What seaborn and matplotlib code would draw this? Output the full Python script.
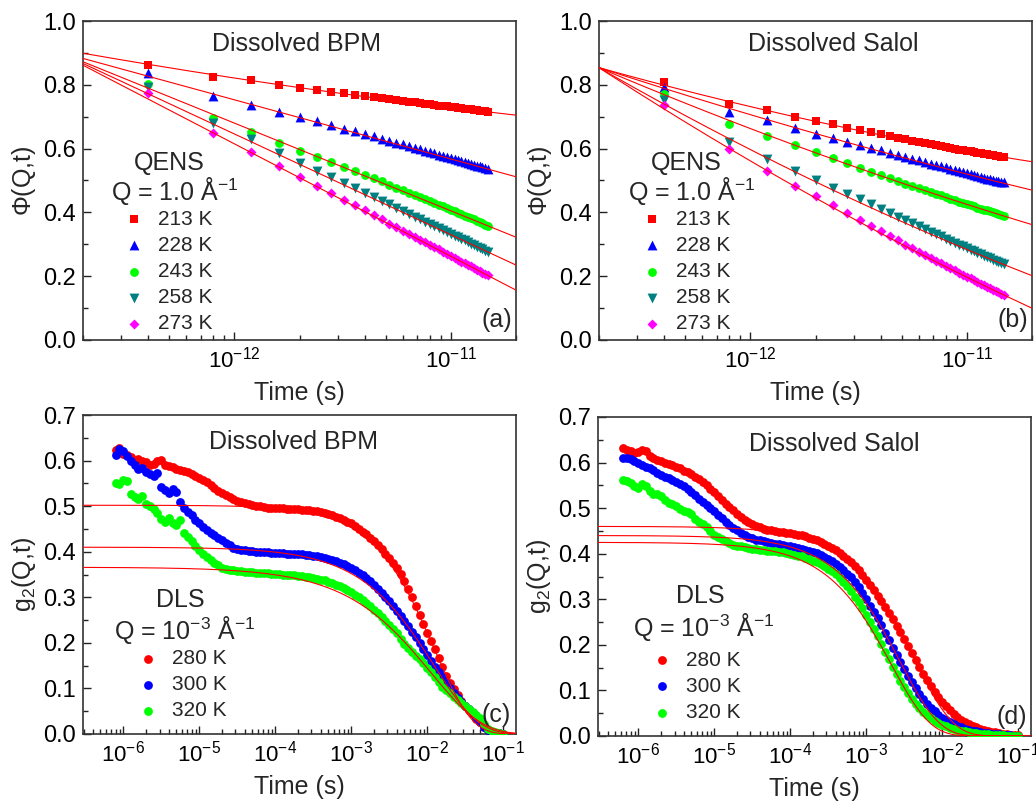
import numpy as np
import matplotlib
matplotlib.use("Agg")
import matplotlib.pyplot as plt
import seaborn as sns
from matplotlib.ticker import MultipleLocator, LogLocator, NullFormatter, FixedLocator

# ---------------- QENS data (time in ps) ----------------
qens_t_ps = [0.4, 0.8, 1.2, 1.6, 2.0, 2.4, 2.8, 3.2, 3.6, 4.0, 4.4, 4.8, 5.2, 5.6, 6.0, 6.4,
             6.8, 7.2, 7.6, 8.0, 8.4, 8.8, 9.2, 9.6, 10.0, 10.4, 10.8, 11.2, 11.6, 12.0, 12.4,
             12.8, 13.2, 13.6, 14.0, 14.4, 14.8]
qens_labels = ["213 K", "228 K", "243 K", "258 K", "273 K"]

bpm_213 = [0.862, 0.823, 0.815, 0.800, 0.790, 0.784, 0.778, 0.774, 0.769, 0.765, 0.761, 0.758, 0.755,
           0.752, 0.749, 0.747, 0.745, 0.743, 0.741, 0.739, 0.737, 0.735, 0.733, 0.732, 0.730, 0.729,
           0.727, 0.726, 0.725, 0.724, 0.723, 0.721, 0.720, 0.719, 0.718, 0.717, 0.716]
bpm_228 = [0.836, 0.765, 0.738, 0.715, 0.698, 0.686, 0.674, 0.663, 0.654, 0.645, 0.638, 0.631, 0.624,
           0.618, 0.613, 0.607, 0.602, 0.598, 0.593, 0.589, 0.585, 0.581, 0.577, 0.574, 0.571, 0.567,
           0.564, 0.561, 0.558, 0.555, 0.552, 0.549, 0.546, 0.544, 0.541, 0.538, 0.536]
bpm_243 = [0.803, 0.695, 0.651, 0.617, 0.594, 0.574, 0.558, 0.543, 0.530, 0.518, 0.507, 0.497, 0.487,
           0.478, 0.470, 0.462, 0.455, 0.448, 0.442, 0.436, 0.430, 0.424, 0.419, 0.414, 0.409, 0.404,
           0.399, 0.395, 0.390, 0.386, 0.382, 0.378, 0.374, 0.370, 0.366, 0.362, 0.358]
bpm_258 = [0.792, 0.679, 0.629, 0.587, 0.556, 0.531, 0.510, 0.491, 0.475, 0.461, 0.448, 0.436, 0.425,
           0.414, 0.404, 0.395, 0.387, 0.379, 0.371, 0.364, 0.357, 0.351, 0.344, 0.339, 0.333, 0.327,
           0.322, 0.317, 0.312, 0.307, 0.302, 0.297, 0.293, 0.288, 0.284, 0.280, 0.276]
bpm_273 = [0.775, 0.648, 0.590, 0.546, 0.512, 0.484, 0.460, 0.440, 0.422, 0.406, 0.391, 0.378, 0.365,
           0.353, 0.343, 0.333, 0.323, 0.315, 0.306, 0.299, 0.291, 0.284, 0.277, 0.271, 0.264, 0.258,
           0.252, 0.246, 0.241, 0.236, 0.231, 0.225, 0.220, 0.215, 0.211, 0.207, 0.203]

salol_213 = [0.808, 0.740, 0.721, 0.700, 0.687, 0.676, 0.666, 0.658, 0.651, 0.645, 0.639, 0.634, 0.629,
             0.625, 0.621, 0.617, 0.614, 0.611, 0.608, 0.605, 0.602, 0.600, 0.597, 0.595, 0.593, 0.591,
             0.589, 0.587, 0.585, 0.583, 0.582, 0.580, 0.579, 0.577, 0.576, 0.574, 0.573]
salol_228 = [0.792, 0.714, 0.690, 0.666, 0.647, 0.634, 0.622, 0.612, 0.603, 0.595, 0.587, 0.581, 0.574,
             0.568, 0.563, 0.558, 0.553, 0.549, 0.545, 0.541, 0.537, 0.533, 0.529, 0.526, 0.523, 0.520,
             0.517, 0.514, 0.511, 0.509, 0.506, 0.504, 0.502, 0.500, 0.498, 0.496, 0.494]
salol_243 = [0.770, 0.677, 0.640, 0.611, 0.588, 0.570, 0.554, 0.540, 0.528, 0.517, 0.507, 0.498, 0.490,
             0.483, 0.476, 0.470, 0.464, 0.458, 0.453, 0.448, 0.443, 0.438, 0.434, 0.430, 0.426, 0.422,
             0.419, 0.415, 0.412, 0.409, 0.406, 0.403, 0.400, 0.397, 0.394, 0.392, 0.389]
salol_258 = [0.752, 0.620, 0.568, 0.530, 0.501, 0.478, 0.458, 0.441, 0.426, 0.412, 0.399, 0.387, 0.376,
             0.366, 0.357, 0.348, 0.340, 0.332, 0.325, 0.318, 0.311, 0.305, 0.299, 0.294, 0.288, 0.283,
             0.278, 0.273, 0.269, 0.264, 0.260, 0.256, 0.252, 0.248, 0.244, 0.241, 0.237]
salol_273 = [0.736, 0.598, 0.531, 0.484, 0.450, 0.422, 0.398, 0.377, 0.358, 0.342, 0.326, 0.312, 0.299,
             0.288, 0.277, 0.267, 0.257, 0.248, 0.240, 0.232, 0.225, 0.218, 0.211, 0.205, 0.199, 0.193,
             0.187, 0.182, 0.177, 0.172, 0.167, 0.162, 0.157, 0.153, 0.149, 0.145, 0.141]

# log-decay fit parameters: phi = a + b*L + c*L^2, L = log10(t / 1 ps)
bpm_fit_a = [0.8213, 0.753, 0.680, 0.646, 0.615]
bpm_fit_b = [-0.1035, -0.1855, -0.275, -0.316, -0.3525]
bpm_fit_c = [0.0108, 0.0, 0.0, 0.0, 0.0]
salol_fit_a = [0.7317, 0.7064, 0.6628, 0.597, 0.5615]
salol_fit_b = [-0.160, -0.2008, -0.2585, -0.3449, -0.3959]
salol_fit_c = [0.0209, 0.0146, 0.0208, 0.0316, 0.0315]

# ---------------- DLS data (log10 of time in s) ----------------
dls_labels = ["280 K", "300 K", "320 K"]
bpm_dls_logt = [
    -6.10, -6.05, -6.00, -5.95, -5.90, -5.85, -5.80, -5.75, -5.70, -5.65,
    -5.60, -5.55, -5.50, -5.45, -5.40, -5.35, -5.30, -5.25, -5.20, -5.15,
    -5.10, -5.05, -5.00, -4.95, -4.90, -4.85, -4.80, -4.75, -4.70, -4.65,
    -4.60, -4.55, -4.50, -4.45, -4.40, -4.35, -4.30, -4.25, -4.20, -4.15,
    -4.10, -4.05, -4.00, -3.95, -3.90, -3.85, -3.80, -3.75, -3.70, -3.65,
    -3.60, -3.55, -3.50, -3.45, -3.40, -3.35, -3.30, -3.25, -3.20, -3.15,
    -3.10, -3.05, -3.00, -2.95, -2.90, -2.85, -2.80, -2.75, -2.70, -2.65,
    -2.60, -2.55, -2.50, -2.45, -2.40, -2.35, -2.30, -2.25, -2.20, -2.15,
    -2.10, -2.05, -2.00, -1.95, -1.90, -1.85, -1.80, -1.75, -1.70, -1.65,
    -1.60, -1.55, -1.50, -1.45, -1.40, -1.35, -1.30, -1.25, -1.20, -1.15,
    -1.10, -1.05, -1.00]
bpm_dls_280 = [
    0.624, 0.627, 0.615, 0.612, 0.607, 0.598, 0.603, 0.600, 0.597, 0.590,
    0.592, 0.600, 0.601, 0.590, 0.588, 0.585, 0.582, 0.580, 0.578, 0.574,
    0.570, 0.567, 0.562, 0.558, 0.553, 0.546, 0.540, 0.534, 0.529, 0.524,
    0.520, 0.515, 0.512, 0.509, 0.507, 0.504, 0.502, 0.501, 0.500, 0.498,
    0.497, 0.497, 0.496, 0.495, 0.495, 0.494, 0.494, 0.493, 0.493, 0.492,
    0.492, 0.491, 0.490, 0.489, 0.487, 0.485, 0.482, 0.480, 0.477, 0.474,
    0.470, 0.466, 0.462, 0.456, 0.450, 0.444, 0.438, 0.431, 0.423, 0.414,
    0.405, 0.396, 0.386, 0.375, 0.364, 0.351, 0.336, 0.318, 0.300, 0.281,
    0.262, 0.242, 0.222, 0.204, 0.186, 0.166, 0.146, 0.128, 0.112, 0.098,
    0.085, 0.073, 0.062, 0.052, 0.043, 0.034, 0.026, 0.016, 0.008, 0.005,
    0.003, 0.002, 0.001]
bpm_dls_300 = [
    0.612, 0.625, 0.622, 0.610, 0.600, 0.590, 0.582, 0.584, 0.575, 0.570,
    0.566, 0.572, 0.543, 0.535, 0.528, 0.538, 0.532, 0.510, 0.495, 0.488,
    0.480, 0.470, 0.462, 0.455, 0.447, 0.440, 0.436, 0.430, 0.425, 0.419,
    0.414, 0.409, 0.406, 0.404, 0.403, 0.402, 0.401, 0.400, 0.400, 0.399,
    0.399, 0.398, 0.398, 0.397, 0.397, 0.396, 0.396, 0.395, 0.395, 0.394,
    0.393, 0.392, 0.391, 0.390, 0.388, 0.386, 0.384, 0.382, 0.379, 0.376,
    0.372, 0.368, 0.364, 0.359, 0.354, 0.348, 0.342, 0.335, 0.327, 0.319,
    0.310, 0.301, 0.292, 0.281, 0.270, 0.259, 0.248, 0.236, 0.224, 0.212,
    0.200, 0.187, 0.174, 0.161, 0.148, 0.136, 0.124, 0.112, 0.101, 0.090,
    0.080, 0.071, 0.062, 0.054, 0.046, 0.036, 0.026, 0.016, 0.008, 0.005,
    0.003, 0.002, 0.001]
bpm_dls_320 = [
    0.550, 0.548, 0.558, 0.555, 0.527, 0.520, 0.516, 0.522, 0.505, 0.500,
    0.494, 0.485, 0.472, 0.466, 0.474, 0.462, 0.458, 0.470, 0.440, 0.432,
    0.423, 0.413, 0.403, 0.396, 0.389, 0.382, 0.375, 0.370, 0.365, 0.362,
    0.360, 0.359, 0.358, 0.357, 0.356, 0.355, 0.355, 0.354, 0.354, 0.353,
    0.353, 0.352, 0.352, 0.351, 0.350, 0.349, 0.349, 0.348, 0.347, 0.346,
    0.345, 0.344, 0.343, 0.341, 0.339, 0.337, 0.334, 0.331, 0.328, 0.324,
    0.320, 0.316, 0.311, 0.306, 0.300, 0.294, 0.288, 0.281, 0.273, 0.265,
    0.257, 0.249, 0.240, 0.231, 0.221, 0.209, 0.198, 0.189, 0.180, 0.172,
    0.164, 0.155, 0.145, 0.135, 0.124, 0.114, 0.104, 0.096, 0.089, 0.081,
    0.074, 0.067, 0.061, 0.055, 0.049, 0.042, 0.035, 0.022, 0.010, 0.006,
    0.004, 0.002, 0.001]

salol_dls_logt = [
    -6.20, -6.15, -6.10, -6.05, -6.00, -5.95, -5.90, -5.85, -5.80, -5.75,
    -5.70, -5.65, -5.60, -5.55, -5.50, -5.45, -5.40, -5.35, -5.30, -5.25,
    -5.20, -5.15, -5.10, -5.05, -5.00, -4.95, -4.90, -4.85, -4.80, -4.75,
    -4.70, -4.65, -4.60, -4.55, -4.50, -4.45, -4.40, -4.35, -4.30, -4.25,
    -4.20, -4.15, -4.10, -4.05, -4.00, -3.95, -3.90, -3.85, -3.80, -3.75,
    -3.70, -3.65, -3.60, -3.55, -3.50, -3.45, -3.40, -3.35, -3.30, -3.25,
    -3.20, -3.15, -3.10, -3.05, -3.00, -2.95, -2.90, -2.85, -2.80, -2.75,
    -2.70, -2.65, -2.60, -2.55, -2.50, -2.45, -2.40, -2.35, -2.30, -2.25,
    -2.20, -2.15, -2.10, -2.05, -2.00, -1.95, -1.90, -1.85, -1.80, -1.75,
    -1.70, -1.65, -1.60, -1.55, -1.50, -1.45, -1.40, -1.35, -1.30, -1.25,
    -1.20, -1.15, -1.10, -1.05, -1.00]
salol_dls_280 = [
    0.633, 0.628, 0.626, 0.622, 0.624, 0.628, 0.626, 0.614, 0.610, 0.606,
    0.603, 0.600, 0.596, 0.594, 0.590, 0.587, 0.582, 0.580, 0.575, 0.569,
    0.563, 0.557, 0.550, 0.543, 0.535, 0.527, 0.518, 0.510, 0.502, 0.495,
    0.488, 0.481, 0.475, 0.470, 0.465, 0.461, 0.458, 0.455, 0.453, 0.451,
    0.450, 0.448, 0.447, 0.446, 0.445, 0.444, 0.442, 0.440, 0.438, 0.435,
    0.432, 0.429, 0.426, 0.422, 0.418, 0.413, 0.408, 0.402, 0.396, 0.389,
    0.381, 0.373, 0.364, 0.354, 0.343, 0.332, 0.320, 0.308, 0.296, 0.283,
    0.270, 0.256, 0.242, 0.228, 0.213, 0.198, 0.183, 0.167, 0.152, 0.137,
    0.122, 0.109, 0.096, 0.085, 0.074, 0.065, 0.056, 0.049, 0.042, 0.036,
    0.031, 0.026, 0.022, 0.019, 0.016, 0.013, 0.011, 0.009, 0.008, 0.006,
    0.005, 0.004, 0.003, 0.002, 0.002]
salol_dls_300 = [
    0.609, 0.610, 0.607, 0.603, 0.600, 0.594, 0.590, 0.587, 0.583, 0.577,
    0.573, 0.569, 0.566, 0.562, 0.557, 0.553, 0.548, 0.542, 0.535, 0.528,
    0.520, 0.513, 0.506, 0.500, 0.493, 0.486, 0.478, 0.470, 0.463, 0.457,
    0.451, 0.446, 0.441, 0.437, 0.434, 0.431, 0.429, 0.427, 0.425, 0.423,
    0.422, 0.421, 0.420, 0.418, 0.417, 0.415, 0.413, 0.411, 0.409, 0.407,
    0.404, 0.401, 0.397, 0.393, 0.389, 0.384, 0.378, 0.371, 0.364, 0.356,
    0.348, 0.338, 0.326, 0.313, 0.300, 0.286, 0.272, 0.258, 0.243, 0.227,
    0.211, 0.194, 0.178, 0.162, 0.147, 0.132, 0.118, 0.105, 0.093, 0.082,
    0.071, 0.062, 0.054, 0.047, 0.040, 0.035, 0.030, 0.026, 0.022, 0.019,
    0.016, 0.014, 0.012, 0.010, 0.009, 0.007, 0.006, 0.005, 0.004, 0.004,
    0.003, 0.002, 0.002, 0.001, 0.001]
salol_dls_320 = [
    0.562, 0.560, 0.556, 0.548, 0.545, 0.552, 0.549, 0.537, 0.532, 0.530,
    0.526, 0.518, 0.512, 0.509, 0.505, 0.498, 0.494, 0.492, 0.488, 0.476,
    0.469, 0.465, 0.458, 0.449, 0.442, 0.437, 0.432, 0.427, 0.423, 0.420,
    0.418, 0.416, 0.414, 0.412, 0.411, 0.410, 0.409, 0.408, 0.407, 0.406,
    0.405, 0.404, 0.403, 0.402, 0.400, 0.398, 0.396, 0.394, 0.391, 0.388,
    0.385, 0.381, 0.377, 0.372, 0.367, 0.361, 0.355, 0.347, 0.339, 0.329,
    0.318, 0.306, 0.294, 0.280, 0.266, 0.251, 0.235, 0.219, 0.202, 0.185,
    0.168, 0.152, 0.136, 0.121, 0.107, 0.094, 0.082, 0.071, 0.061, 0.053,
    0.045, 0.039, 0.033, 0.028, 0.024, 0.021, 0.018, 0.015, 0.013, 0.011,
    0.010, 0.008, 0.007, 0.006, 0.005, 0.004, 0.004, 0.003, 0.003, 0.002,
    0.002, 0.001, 0.001, 0.001, 0.001]

# stretched-exponential fits: g2 = f * exp(-(t/tau)^beta)
bpm_dls_f = [0.502, 0.410, 0.366]
bpm_dls_logtau = [-1.90, -1.91, -1.95]
bpm_dls_beta = [0.90, 0.75, 0.65]
salol_dls_f = [0.460, 0.440, 0.425]
salol_dls_logtau = [-2.37, -2.549, -2.667]
salol_dls_beta = [0.85, 0.85, 0.85]

# ---------------- styling ----------------
sns.set_theme(style="ticks")
plt.rcParams['font.family'] = ['Liberation Sans', 'DejaVu Sans']
plt.rcParams['mathtext.fontset'] = 'custom'
plt.rcParams['mathtext.rm'] = 'Liberation Sans'
plt.rcParams['mathtext.it'] = 'Liberation Sans:italic'
plt.rcParams['mathtext.bf'] = 'Liberation Sans:bold'
plt.rcParams['axes.unicode_minus'] = True

qens_colors = ['#FF0000', '#0000FF', '#00FF00', '#008080', '#FF00FF']
qens_markers = ['s', '^', 'o', 'v', 'D']
qens_sizes = [32, 50, 40, 50, 26]
dls_colors = ['#FF0000', '#0000FF', '#00FF00']

W, H = 1036, 806
fig = plt.figure(figsize=(W / 100, H / 100), dpi=100)


def add_ax(l, t, r, b):
    return fig.add_axes([l / W, 1 - b / H, (r - l) / W, (b - t) / H])


ax_a = add_ax(83, 21, 516, 340)
ax_b = add_ax(599, 21, 1032, 340)
ax_c = add_ax(83, 415, 516, 734)
ax_d = add_ax(598, 417, 1031, 736)


def style(ax, xlim, xmajors, ylim, ymaj, ymin, ylabel):
    ax.set_xscale('log')
    ax.set_xlim(*xlim)
    ax.set_ylim(*ylim)
    ax.yaxis.set_major_locator(MultipleLocator(ymaj))
    ax.yaxis.set_minor_locator(MultipleLocator(ymin))
    ax.xaxis.set_major_locator(FixedLocator(xmajors))
    ax.xaxis.set_minor_locator(LogLocator(base=10, subs=np.arange(2, 10), numticks=20))
    ax.xaxis.set_minor_formatter(NullFormatter())
    ax.tick_params(which='both', direction='in', top=False, right=False, colors='#222222',
                   labelcolor='black')
    ax.tick_params(which='major', length=6, width=1.0, pad=5)
    ax.tick_params(axis='y', which='major', labelsize=17)
    ax.tick_params(axis='x', which='major', labelsize=16)
    ax.tick_params(which='minor', length=3.5, width=1.0)
    for s in ax.spines.values():
        s.set_linewidth(1.2)
        s.set_color('#333333')
    ax.set_xlabel('Time (s)', fontsize=18, labelpad=6)
    ax.set_ylabel(ylabel, fontsize=18, labelpad=4)
    ax.grid(False)


def draw_qens(ax, series, fa, fb, fc, title, tag, x_q, x_leg):
    t = np.array(qens_t_ps) * 1e-12
    for vals, lab, col, mk, sz in zip(series, qens_labels, qens_colors, qens_markers, qens_sizes):
        sns.scatterplot(x=t, y=vals, marker=mk, color=col, s=sz, linewidth=0, label=lab,
                        ax=ax, zorder=3)
    tt = np.logspace(-12.75, -10.65, 300)
    L = np.log10(tt / 1e-12)
    for a, b, c in zip(fa, fb, fc):
        sns.lineplot(x=tt, y=a + b * L + c * L ** 2, color='#FF0000', linewidth=0.8,
                     estimator=None, legend=False, ax=ax, zorder=4)
    style(ax, (2e-13, 2e-11), [1e-12, 1e-11], (0, 1.0), 0.2, 0.1, r'$\Phi$(Q,t)')
    ax.text(x_q[0], 0.928, title, transform=ax.transAxes, ha='center', va='center', fontsize=18)
    ax.text(x_q[1], 0.555, 'QENS', transform=ax.transAxes, ha='center', va='center', fontsize=18)
    ax.text(x_q[2], 0.468, r'Q = 1.0 Å$^{-1}$', transform=ax.transAxes, ha='center',
            va='center', fontsize=18)
    ax.text(0.955, 0.063, tag, transform=ax.transAxes, ha='center', va='center', fontsize=18)
    ax.legend(loc='upper left', bbox_to_anchor=(x_leg, 0.408), frameon=False, fontsize=15,
              handletextpad=0.65, handlelength=1.0, labelspacing=0.34, borderpad=0,
              borderaxespad=0)


def draw_dls(ax, logt, series, ff, ftau, fbeta, title, tag, x_q, x_leg, y_leg):
    t = 10.0 ** np.array(logt)
    for vals, lab, col in zip(series, dls_labels, dls_colors):
        sns.scatterplot(x=t, y=vals, marker='o', color=col, s=40, linewidth=0, label=lab,
                        ax=ax, zorder=3)
    tt = np.logspace(-6.6, -0.8, 500)
    for f, lt, be in zip(ff, ftau, fbeta):
        sns.lineplot(x=tt, y=f * np.exp(-(tt / 10.0 ** lt) ** be), color='#FF0000',
                     linewidth=0.8, estimator=None, legend=False, ax=ax, zorder=4)
    style(ax, (10 ** -6.53, 10 ** -0.83), [1e-6, 1e-5, 1e-4, 1e-3, 1e-2, 1e-1], (0, 0.7),
          0.1, 0.05, r'g$_2$(Q,t)')
    ax.text(x_q[0], 0.914, title, transform=ax.transAxes, ha='center', va='center', fontsize=18)
    ax.text(x_q[1], x_q[3], 'DLS', transform=ax.transAxes, ha='center', va='center', fontsize=18)
    ax.text(x_q[2], x_q[4], r'Q = 10$^{-3}$ Å$^{-1}$', transform=ax.transAxes, ha='center',
            va='center', fontsize=18)
    ax.text(0.955, 0.058, tag, transform=ax.transAxes, ha='center', va='center', fontsize=18)
    ax.legend(loc='upper left', bbox_to_anchor=(x_leg, y_leg), frameon=False, fontsize=15,
              handletextpad=0.65, handlelength=1.0, labelspacing=0.34, borderpad=0,
              borderaxespad=0)


draw_qens(ax_a, [bpm_213, bpm_228, bpm_243, bpm_258, bpm_273], bpm_fit_a, bpm_fit_b, bpm_fit_c,
          'Dissolved BPM', '(a)', (0.494, 0.199, 0.211), 0.094)
draw_qens(ax_b, [salol_213, salol_228, salol_243, salol_258, salol_273], salol_fit_a, salol_fit_b,
          salol_fit_c, 'Dissolved Salol', '(b)', (0.541, 0.202, 0.214), 0.098)
draw_dls(ax_c, bpm_dls_logt, [bpm_dls_280, bpm_dls_300, bpm_dls_320], bpm_dls_f, bpm_dls_logtau,
         bpm_dls_beta, 'Dissolved BPM', '(c)', (0.485, 0.224, 0.236, 0.42, 0.326), 0.125, 0.266)
draw_dls(ax_d, salol_dls_logt, [salol_dls_280, salol_dls_300, salol_dls_320], salol_dls_f,
         salol_dls_logtau, salol_dls_beta, 'Dissolved Salol', '(d)',
         (0.546, 0.236, 0.245, 0.439, 0.343), 0.123, 0.267)

fig.savefig('out.png', dpi=100, facecolor='white')
